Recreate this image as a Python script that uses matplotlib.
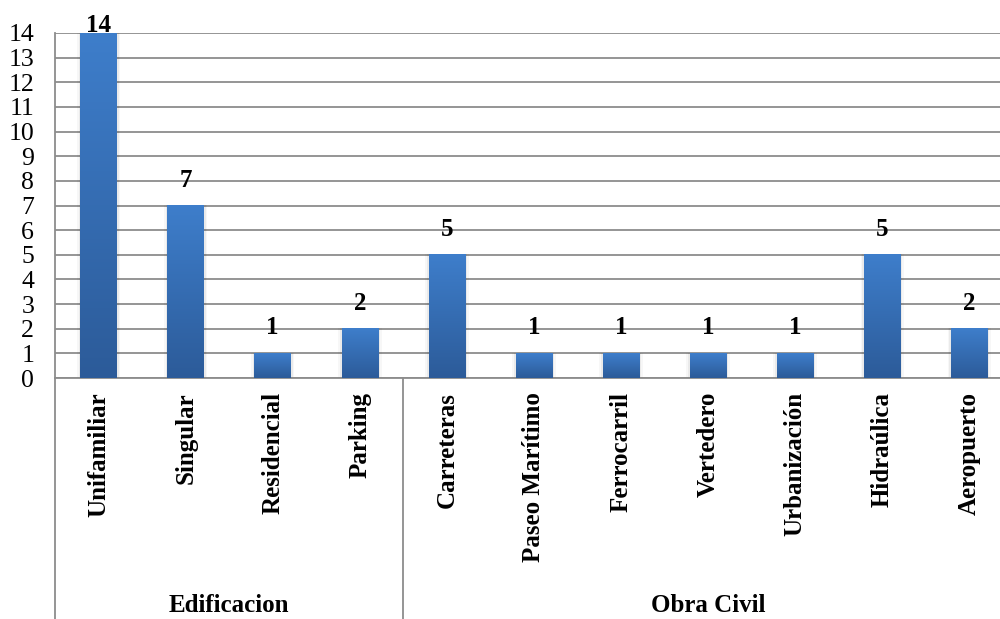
import matplotlib
matplotlib.use("Agg")
import matplotlib.pyplot as plt
import numpy as np
from matplotlib.colors import LinearSegmentedColormap
from matplotlib.lines import Line2D
from matplotlib.patches import Rectangle
from matplotlib import transforms

plt.rcParams['font.family'] = ['Liberation Serif', 'DejaVu Serif']

# Data
categories = ["Unifamiliar", "Singular", "Residencial", "Parking",
              "Carreteras", "Paseo Marítimo", "Ferrocarril", "Vertedero",
              "Urbanización", "Hidraúlica", "Aeropuerto"]
values = [14, 7, 1, 2, 5, 1, 1, 1, 1, 5, 2]
groups = ["Edificacion", "Obra Civil"]
group_sizes = [4, 7]
y_ticks = list(range(0, 15))

fig = plt.figure(figsize=(10, 6.19), dpi=100)
ax = fig.add_axes([0.055, 0.3893, 0.958, 0.5574])

n = len(categories)
x = np.arange(n)
ax.set_xlim(-0.5, n - 0.5)
ax.set_ylim(0, 14)

grid_col = '#8c8c8c'
ax.set_axisbelow(True)
ax.yaxis.grid(True, color=grid_col, linewidth=1.3)
ax.set_yticks(y_ticks)
ax.set_yticklabels([str(t) for t in y_ticks], fontsize=18.5)
ax.tick_params(axis='y', length=0, pad=15)

for s in ['top', 'right']:
    ax.spines[s].set_visible(False)
for s in ['left', 'bottom']:
    ax.spines[s].set_color(grid_col)
    ax.spines[s].set_linewidth(1.3)

# Bars with a vertical blue gradient and a soft shadow
cmap = LinearSegmentedColormap.from_list('bar', ['#2c5b99', '#3e7ecb'])
grad = np.linspace(0, 1, 256).reshape(-1, 1)
w = 0.42
for xi, v in zip(x, values):
    for k, a in [(0.04, 0.03), (0.02, 0.05)]:
        ax.add_patch(Rectangle((xi - w / 2 - k, 0), w + 2 * k, v + 0.02,
                               facecolor='#000000', alpha=a, edgecolor='none',
                               zorder=2))
    ax.imshow(grad, extent=[xi - w / 2, xi + w / 2, 0, v], origin='lower',
              cmap=cmap, aspect='auto', zorder=3, interpolation='bilinear')
    # the tallest label is pulled down to stay inside the figure
    off = -3 if v >= 14 else 10
    ax.annotate(str(v), (xi, v), xytext=(0, off), textcoords='offset points',
                ha='center', va='bottom', fontsize=18, fontweight='bold',
                zorder=4)

ax.set_xlim(-0.5, n - 0.5)
ax.set_ylim(0, 14)

ax.set_xticks(x)
ax.set_xticklabels(categories, rotation=90, fontsize=18, fontweight='bold')
ax.tick_params(axis='x', length=0, pad=10)

# Group separators and group labels below the category labels
trans = transforms.blended_transform_factory(ax.transData, fig.transFigure)
bottom = ax.get_position().y0
edges = [-0.5]
for gs in group_sizes:
    edges.append(edges[-1] + gs)
for e in edges[:-1]:
    fig.add_artist(Line2D([e, e], [0, bottom], transform=trans,
                          color=grid_col, linewidth=1.3))
for g, a, b in zip(groups, edges[:-1], edges[1:]):
    fig.text((a + b) / 2, 1 - 605 / 619, g, transform=trans, ha='center',
             va='center', fontsize=18, fontweight='bold')

fig.savefig('out.png', dpi=100)
